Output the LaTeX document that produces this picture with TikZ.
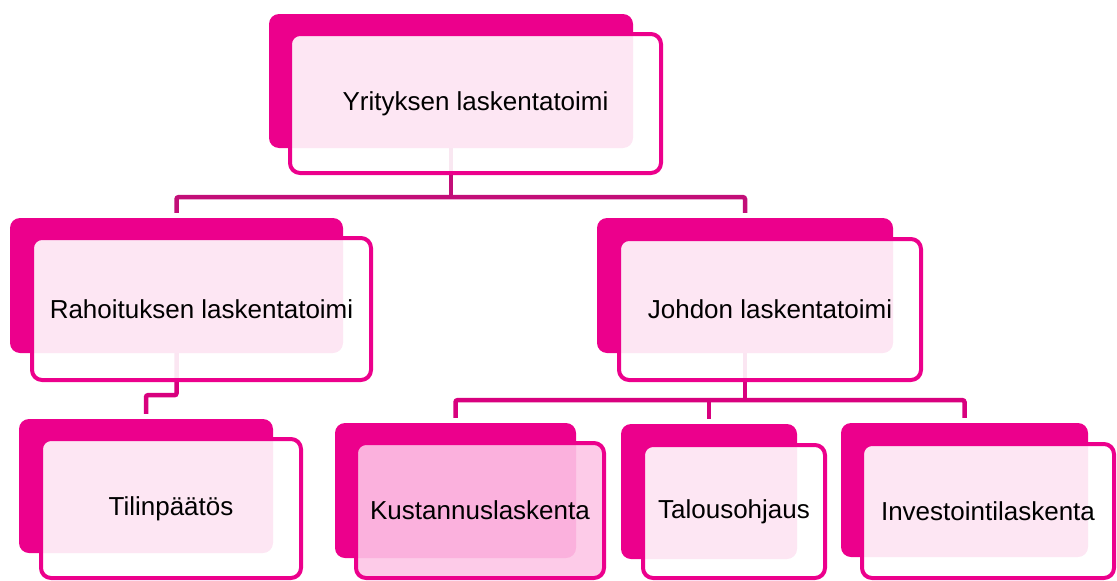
\documentclass[tikz,border=0pt]{standalone}
\usepackage{fontspec}
\setmainfont{Liberation Sans}
\usetikzlibrary{backgrounds}
\definecolor{smMag}{RGB}{236,0,140}
\definecolor{smPink}{RGB}{253,197,230}
\definecolor{connTop}{RGB}{194,14,120}
\definecolor{connLow}{RGB}{216,0,126}
\begin{document}
\begin{tikzpicture}[x=1pt, y=-1pt, line join=round, font=\fontsize{26}{30}\selectfont]
	\tikzset{
		backbox/.style={fill=smMag, rounded corners=10pt, inner sep=0pt},
		frontbox/.style={draw=smMag, line width=4pt, fill opacity=.9, text opacity=1, rounded corners=10pt, inner sep=0pt},
		conn/.style={line width=4.5pt, rounded corners=2pt}
	}
	\useasboundingbox (0,0) rectangle (1117,581);
	% back box / front box with text
	\foreach \n/\bx/\by/\bw/\bh/\fx/\fy/\fw/\fh/\c/\t in {
		yr/451/81/364/134/475.5/103.5/371/139/white/Yrityksen laskentatoimi,
		ra/176.5/285.5/333/135/201.5/309/339/142/white/Rahoituksen laskentatoimi,
		jo/745/285.5/296/135/770/309.5/302/141/white/Johdon laskentatoimi,
		ti/146/486/254/134/171/508.5/260/139/white/Tilinpäätös,
		ku/455.5/490.5/241/135/480/510.5/248/135/smPink/Kustannuslaskenta,
		ta/709/491.5/176/135/734/511.5/182/133/white/Talousohjaus,
		in/964.5/490/247/134/988/511/252/134/white/Investointilaskenta}{
		\node [backbox, minimum width=\bw pt, minimum height=\bh pt] (\n b) at (\bx,\by) {};
		\node [frontbox, fill=\c, minimum width=\fw pt, minimum height=\fh pt] (\n) at (\fx,\fy) {\t};
	}
	% connectors
	\begin{scope}[on background layer]
		\draw [conn, connTop] (yrb.south) -- ++(0,49) coordinate (ybus);
		\draw [conn, connTop] ([yshift=5pt]rab.north) |- (ybus) -| ([yshift=5pt]job.north);
		\draw [conn, connLow] (rab.south) -- ++(0,42) -| ([yshift=5pt]tib.north);
		\draw [conn, connLow] (job.south) -- ++(0,47) coordinate (jbus);
		\draw [conn, connLow] ([yshift=5pt]kub.north) |- (jbus) -| ([yshift=5pt]inb.north);
		\draw [conn, connLow] ([yshift=5pt]tab.north) -- (tab.north |- jbus);
	\end{scope}
\end{tikzpicture}
\end{document}
